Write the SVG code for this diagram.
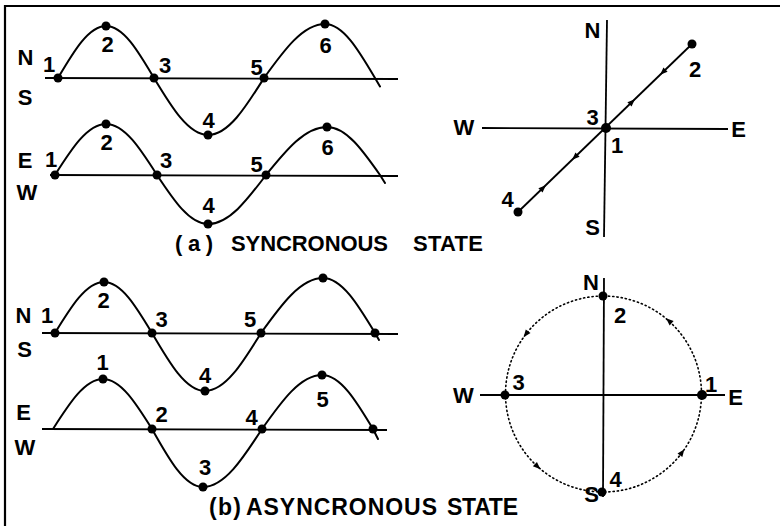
<svg xmlns="http://www.w3.org/2000/svg" xmlns:xlink="http://www.w3.org/1999/xlink" width="780" height="526" viewBox="0 0 780 526">
<style>
.wave{fill:none;stroke:#000;stroke-width:2;stroke-linejoin:round;stroke-linecap:round}
.axis{fill:none;stroke:#000;stroke-width:1.8}
.frame{fill:none;stroke:#000;stroke-width:2.2}
.dotc{fill:none;stroke:#000;stroke-width:1.6;stroke-dasharray:1.2 3;stroke-linecap:round}
.dot{fill:#000}
.lbl{font-family:"Liberation Sans",Arial,sans-serif;font-size:22px;font-weight:bold;fill:#000;text-anchor:middle}
.cap{font-family:"Liberation Sans",Arial,sans-serif;font-weight:bold;fill:#000}
</style>
<defs>
<path id="ah" d="M4,0 L-3.5,-3 L-3.5,3 Z" fill="#000"/>
</defs>
<rect width="780" height="526" fill="#fff"/>
<g id="frame"><path class="frame" d="M5,526 V6 H780"/></g>

<g id="connectors">
<line class="axis" x1="45" y1="78" x2="398" y2="79"/>
<line class="axis" x1="50" y1="175" x2="398" y2="176"/>
<line class="axis" x1="607" y1="20" x2="604" y2="237"/>
<line class="axis" x1="482" y1="128" x2="728" y2="129"/>
<line class="axis" x1="692" y1="44" x2="518" y2="212"/>
<use xlink:href="#ah" transform="translate(632,102) rotate(-44)"/>
<use xlink:href="#ah" transform="translate(663,72) rotate(136)"/>
<use xlink:href="#ah" transform="translate(575,157) rotate(136)"/>
<use xlink:href="#ah" transform="translate(543,188) rotate(-44)"/>
<line class="axis" x1="42" y1="333" x2="398" y2="334"/>
<line class="axis" x1="42" y1="429" x2="387" y2="430"/>
<line class="axis" x1="604" y1="278" x2="603" y2="497"/>
<line class="axis" x1="480" y1="395" x2="725" y2="395"/>
<circle class="dotc" cx="603.5" cy="394" r="98"/>
<use xlink:href="#ah" transform="translate(669,321) rotate(-138)"/>
<use xlink:href="#ah" transform="translate(526,334) rotate(127.6)"/>
<use xlink:href="#ah" transform="translate(537.5,466.5) rotate(42.3)"/>
<use xlink:href="#ah" transform="translate(682,452.5) rotate(-53.4)"/>
</g>

<g id="wave-a-ns">
<path class="wave" d="M58,78 C73.7,51.4 88.6,26 106,26 C123.4,26 138.3,51.4 154,78 C171.6,107.2 188.5,135 208,135 C228.3,135 245.7,107.2 264,78 C283.9,50.3 302.9,24 325,24 C343.1,24 358.7,50.3 375,78 L380,86.5"/>
<circle class="dot" cx="58" cy="78" r="4.5"/>
<circle class="dot" cx="106" cy="26" r="4.5"/>
<circle class="dot" cx="154" cy="78" r="4.5"/>
<circle class="dot" cx="208" cy="135" r="4.5"/>
<circle class="dot" cx="264" cy="78" r="4.5"/>
<circle class="dot" cx="325" cy="24" r="4.5"/>
<text class="lbl" x="25.5" y="65">N</text>
<text class="lbl" x="25" y="105">S</text>
<text class="lbl" x="49" y="72">1</text>
<text class="lbl" x="107.5" y="52">2</text>
<text class="lbl" x="165" y="73">3</text>
<text class="lbl" x="208.5" y="128">4</text>
<text class="lbl" x="256.5" y="75">5</text>
<text class="lbl" x="325.5" y="53">6</text>
</g>

<g id="wave-a-ew">
<path class="wave" d="M55,175 C71.6,148.9 87.5,124 106,124 C124.5,124 140.4,148.9 157,175 C173.6,200.1 189.5,224 208,224 C229,224 247.1,200.1 266,175 C285.9,150.4 304.9,127 327,127 C346.2,127 362.7,150.4 380,175 L385,183"/>
<circle class="dot" cx="55" cy="175" r="4.5"/>
<circle class="dot" cx="106" cy="124" r="4.5"/>
<circle class="dot" cx="157" cy="175" r="4.5"/>
<circle class="dot" cx="208" cy="224" r="4.5"/>
<circle class="dot" cx="266" cy="175" r="4.5"/>
<circle class="dot" cx="327" cy="127" r="4.5"/>
<text class="lbl" x="25" y="168">E</text>
<text class="lbl" x="27" y="200">W</text>
<text class="lbl" x="51" y="167">1</text>
<text class="lbl" x="106.5" y="150">2</text>
<text class="lbl" x="166" y="168">3</text>
<text class="lbl" x="208.5" y="213">4</text>
<text class="lbl" x="256.5" y="172">5</text>
<text class="lbl" x="327.5" y="155">6</text>
</g>

<g id="compass-a">
<circle class="dot" cx="692" cy="44" r="4.5"/>
<circle class="dot" cx="606" cy="128" r="5"/>
<circle class="dot" cx="518" cy="212" r="4.5"/>
<text class="lbl" x="592.5" y="38">N</text>
<text class="lbl" x="592.5" y="235">S</text>
<text class="lbl" x="464" y="135">W</text>
<text class="lbl" x="738.5" y="137">E</text>
<text class="lbl" x="695" y="77">2</text>
<text class="lbl" x="592.5" y="125">3</text>
<text class="lbl" x="617" y="153">1</text>
<text class="lbl" x="507.5" y="207">4</text>
</g>

<g id="caption-a">
<text class="cap" font-size="22" y="251"><tspan x="175" textLength="38">(a)</tspan><tspan x="231" textLength="157">SYNCRONOUS</tspan><tspan x="413" textLength="70">STATE</tspan></text>
</g>

<g id="wave-b-ns">
<path class="wave" d="M55,333 C71,306.9 86.3,282 104,282 C121.4,282 136.3,306.9 152,333 C169.3,362.7 185.8,391 205,391 C225.3,391 242.7,362.7 261,333 C281.2,304.8 300.6,278 323,278 C341.8,278 358,304.8 375,333 L379,340"/>
<circle class="dot" cx="55" cy="333" r="4.5"/>
<circle class="dot" cx="104" cy="282" r="4.5"/>
<circle class="dot" cx="152" cy="333" r="4.5"/>
<circle class="dot" cx="205" cy="391" r="4.5"/>
<circle class="dot" cx="261" cy="333" r="4.5"/>
<circle class="dot" cx="323" cy="278" r="4.5"/>
<circle class="dot" cx="375" cy="333" r="4.5"/>
<text class="lbl" x="23.5" y="323">N</text>
<text class="lbl" x="24.5" y="357">S</text>
<text class="lbl" x="47" y="323">1</text>
<text class="lbl" x="103.5" y="308">2</text>
<text class="lbl" x="161.5" y="327">3</text>
<text class="lbl" x="205" y="383">4</text>
<text class="lbl" x="250" y="327">5</text>
</g>

<g id="wave-b-ew">
<path class="wave" d="M53,429 C69.3,403.4 84.9,379 103,379 C120.7,379 136,403.4 152,429 C168.6,458.7 184.5,487 203,487 C224.4,487 242.8,458.7 262,429 C281.6,401.3 300.3,375 322,375 C340.5,375 356.4,401.3 373,429 L378,439"/>
<circle class="dot" cx="103" cy="379" r="4.5"/>
<circle class="dot" cx="152" cy="429" r="4.5"/>
<circle class="dot" cx="203" cy="487" r="4.5"/>
<circle class="dot" cx="262" cy="429" r="4.5"/>
<circle class="dot" cx="322" cy="375" r="4.5"/>
<circle class="dot" cx="373" cy="429" r="4.5"/>
<text class="lbl" x="23.5" y="420">E</text>
<text class="lbl" x="25" y="455">W</text>
<text class="lbl" x="102.5" y="370">1</text>
<text class="lbl" x="161.5" y="422">2</text>
<text class="lbl" x="205" y="475">3</text>
<text class="lbl" x="251.5" y="425">4</text>
<text class="lbl" x="322.5" y="407">5</text>
</g>

<g id="compass-b">
<circle class="dot" cx="603" cy="296" r="4.5"/>
<circle class="dot" cx="505" cy="395" r="4.5"/>
<circle class="dot" cx="702" cy="395" r="5"/>
<circle class="dot" cx="602" cy="492" r="4.5"/>
<text class="lbl" x="591" y="290">N</text>
<text class="lbl" x="591.5" y="502">S</text>
<text class="lbl" x="463.5" y="403">W</text>
<text class="lbl" x="735.5" y="405">E</text>
<text class="lbl" x="620" y="323">2</text>
<text class="lbl" x="518.5" y="390">3</text>
<text class="lbl" x="711" y="392">1</text>
<text class="lbl" x="615.5" y="487">4</text>
</g>

<g id="caption-b">
<text class="cap" font-size="23" y="515"><tspan x="209" textLength="32">(b)</tspan><tspan x="246" textLength="191">ASYNCRONOUS</tspan><tspan x="447" textLength="71">STATE</tspan></text>
</g>
</svg>
